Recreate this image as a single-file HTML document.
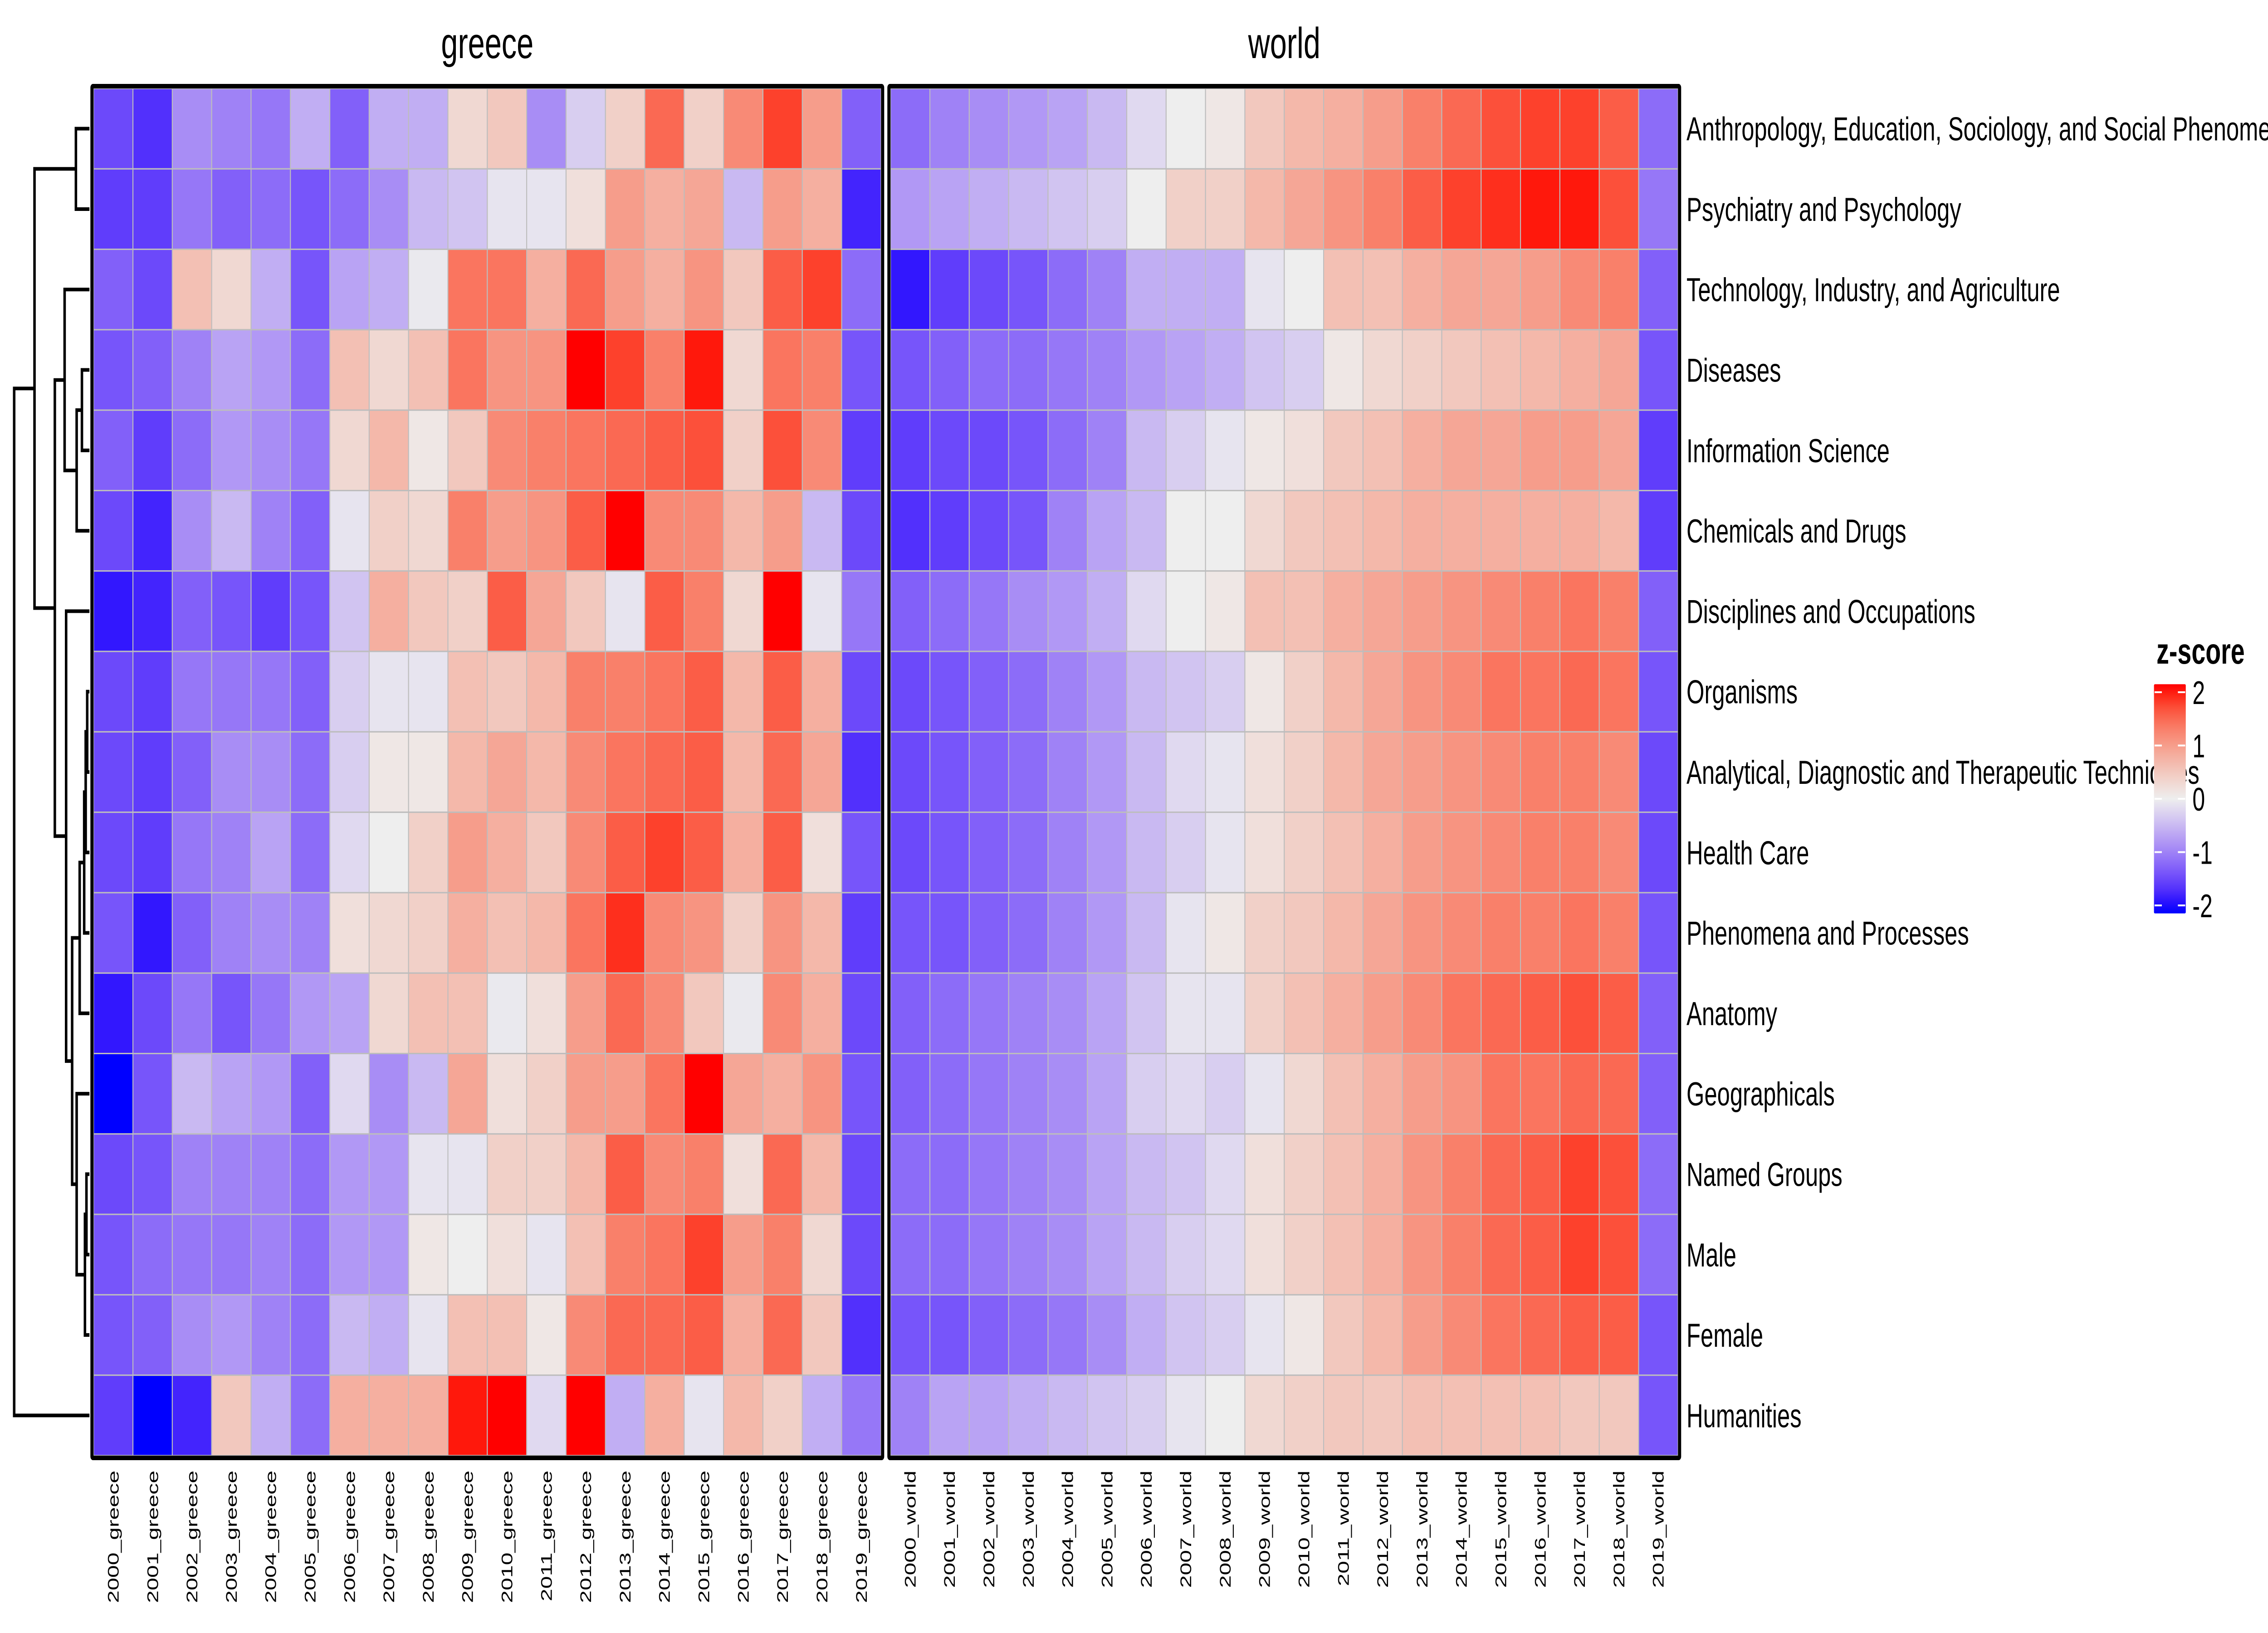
<!DOCTYPE html>
<html><head><meta charset="utf-8"><style>
html,body{margin:0;padding:0;background:#fff;overflow:hidden;width:100vw;height:100vh}
svg{display:block;font-family:"Liberation Sans",Arial,sans-serif;width:100vw;height:100vh}
</style></head><body>
<svg id="chart" viewBox="0 0 7200 3600" preserveAspectRatio="none" xmlns="http://www.w3.org/2000/svg">
<defs>
<linearGradient id="legendGrad" x1="0" y1="1" x2="0" y2="0"></linearGradient>
</defs>
<g id="dendro"></g>
<g id="cells"></g>
<g id="frames"></g>
<g id="labels"></g>
<g id="legend"></g>
</svg>
<script>
const panels = ["greece", "world"];
const years = ["2000","2001","2002","2003","2004","2005","2006","2007","2008","2009","2010","2011","2012","2013","2014","2015","2016","2017","2018","2019"];
const rowNames = ["Anthropology, Education, Sociology, and Social Phenomena","Psychiatry and Psychology","Technology, Industry, and Agriculture","Diseases","Information Science","Chemicals and Drugs","Disciplines and Occupations","Organisms","Analytical, Diagnostic and Therapeutic Techniques","Health Care","Phenomena and Processes","Anatomy","Geographicals","Named Groups","Male","Female","Humanities"];
const greeceValues = [
[-1.5,-1.7,-0.9,-1.0,-1.1,-0.6,-1.3,-0.6,-0.6,0.3,0.5,-0.9,-0.3,0.4,1.5,0.4,1.2,1.8,1.0,-1.3],
[-1.6,-1.6,-1.1,-1.3,-1.2,-1.4,-1.2,-0.9,-0.5,-0.4,-0.1,-0.1,0.2,1.0,0.8,0.9,-0.5,1.0,0.8,-1.8],
[-1.3,-1.5,0.6,0.3,-0.6,-1.4,-0.7,-0.6,-0.05,1.4,1.4,0.8,1.5,1.0,0.8,1.1,0.5,1.6,1.8,-1.2],
[-1.4,-1.3,-1.0,-0.7,-0.8,-1.2,0.6,0.3,0.6,1.4,1.1,1.1,2.3,1.8,1.3,2.0,0.3,1.4,1.3,-1.4],
[-1.3,-1.6,-1.2,-0.8,-0.9,-1.1,0.3,0.7,0.1,0.5,1.2,1.3,1.4,1.5,1.6,1.7,0.4,1.7,1.2,-1.6],
[-1.5,-1.8,-0.9,-0.5,-1.0,-1.3,-0.1,0.4,0.3,1.3,1.0,1.1,1.6,2.3,1.2,1.2,0.7,1.0,-0.5,-1.5],
[-1.9,-1.8,-1.3,-1.4,-1.6,-1.4,-0.4,0.8,0.5,0.4,1.6,0.9,0.5,-0.1,1.6,1.3,0.3,2.4,-0.1,-1.1],
[-1.5,-1.6,-1.1,-1.1,-1.1,-1.3,-0.3,-0.1,-0.1,0.6,0.5,0.7,1.3,1.3,1.4,1.6,0.7,1.6,0.8,-1.5],
[-1.5,-1.6,-1.3,-0.9,-0.9,-1.2,-0.3,0.1,0.1,0.7,0.9,0.7,1.2,1.4,1.5,1.6,0.7,1.5,0.9,-1.7],
[-1.5,-1.6,-1.1,-1.0,-0.7,-1.2,-0.2,0.0,0.4,1.0,0.8,0.5,1.2,1.6,1.8,1.6,0.8,1.6,0.2,-1.4],
[-1.4,-1.9,-1.3,-1.0,-0.9,-1.0,0.2,0.3,0.4,0.8,0.6,0.7,1.4,1.9,1.2,1.1,0.4,1.1,0.7,-1.6],
[-1.9,-1.5,-1.1,-1.4,-1.1,-0.8,-0.7,0.3,0.6,0.6,-0.05,0.2,1.0,1.5,1.2,0.5,-0.05,1.2,0.8,-1.5],
[-2.2,-1.4,-0.5,-0.7,-0.8,-1.3,-0.2,-0.9,-0.5,0.9,0.2,0.4,1.0,1.0,1.4,2.3,0.9,0.8,1.1,-1.4],
[-1.5,-1.4,-1.0,-1.0,-1.0,-1.2,-0.8,-0.8,-0.1,-0.1,0.4,0.4,0.7,1.6,1.2,1.3,0.2,1.5,0.7,-1.5],
[-1.4,-1.2,-1.1,-1.1,-1.0,-1.2,-0.8,-0.8,0.1,0.0,0.2,-0.1,0.6,1.3,1.4,1.8,1.0,1.3,0.3,-1.5],
[-1.4,-1.3,-0.9,-0.8,-1.0,-1.2,-0.5,-0.6,-0.1,0.6,0.6,0.1,1.2,1.5,1.5,1.6,0.8,1.5,0.5,-1.7],
[-1.6,-2.3,-1.8,0.5,-0.6,-1.2,0.8,0.8,0.8,2.0,2.2,-0.2,2.3,-0.6,0.8,-0.1,0.7,0.4,-0.6,-1.1]
];
const worldValues = [
[-1.2,-1.0,-0.9,-0.8,-0.7,-0.5,-0.2,0.0,0.1,0.5,0.7,0.8,1.0,1.3,1.5,1.7,1.8,1.8,1.6,-1.2],
[-0.8,-0.7,-0.6,-0.5,-0.4,-0.3,0.0,0.4,0.4,0.7,0.9,1.1,1.3,1.6,1.8,1.9,2.0,2.0,1.7,-1.1],
[-1.9,-1.6,-1.5,-1.4,-1.2,-1.0,-0.6,-0.6,-0.6,-0.1,0.0,0.6,0.6,0.8,0.9,0.9,1.0,1.2,1.3,-1.3],
[-1.4,-1.3,-1.2,-1.2,-1.1,-1.0,-0.8,-0.7,-0.6,-0.4,-0.3,0.1,0.3,0.4,0.5,0.6,0.7,0.8,0.9,-1.4],
[-1.6,-1.5,-1.5,-1.4,-1.2,-1.0,-0.5,-0.3,-0.1,0.1,0.2,0.5,0.6,0.8,0.9,0.9,1.0,1.0,0.9,-1.6],
[-1.7,-1.6,-1.5,-1.4,-1.0,-0.7,-0.5,0.0,0.0,0.3,0.5,0.6,0.7,0.8,0.8,0.8,0.8,0.8,0.7,-1.6],
[-1.3,-1.2,-1.1,-0.9,-0.8,-0.6,-0.2,0.0,0.1,0.6,0.6,0.8,0.9,1.0,1.1,1.2,1.3,1.4,1.3,-1.3],
[-1.5,-1.4,-1.3,-1.2,-1.0,-0.8,-0.5,-0.4,-0.3,0.1,0.4,0.7,0.9,1.1,1.2,1.4,1.4,1.5,1.4,-1.4],
[-1.5,-1.4,-1.3,-1.2,-1.0,-0.8,-0.5,-0.2,-0.1,0.2,0.4,0.7,0.9,1.0,1.1,1.2,1.3,1.3,1.2,-1.5],
[-1.5,-1.4,-1.3,-1.2,-1.0,-0.8,-0.5,-0.3,-0.1,0.2,0.4,0.6,0.8,1.0,1.1,1.2,1.3,1.3,1.2,-1.5],
[-1.4,-1.4,-1.3,-1.2,-1.0,-0.8,-0.5,-0.1,0.1,0.4,0.5,0.7,0.9,1.1,1.2,1.3,1.3,1.4,1.3,-1.4],
[-1.3,-1.2,-1.1,-1.0,-0.9,-0.7,-0.4,-0.1,-0.1,0.4,0.6,0.8,1.0,1.2,1.4,1.5,1.6,1.7,1.6,-1.3],
[-1.3,-1.2,-1.1,-1.0,-0.9,-0.7,-0.3,-0.2,-0.3,-0.1,0.3,0.6,0.8,1.0,1.1,1.4,1.4,1.5,1.5,-1.3],
[-1.2,-1.2,-1.1,-1.0,-0.9,-0.7,-0.5,-0.4,-0.2,0.2,0.4,0.6,0.8,1.1,1.3,1.5,1.6,1.8,1.7,-1.2],
[-1.2,-1.2,-1.1,-1.0,-0.9,-0.7,-0.5,-0.3,-0.2,0.2,0.4,0.6,0.8,1.1,1.3,1.5,1.6,1.8,1.7,-1.2],
[-1.4,-1.4,-1.3,-1.2,-1.1,-0.9,-0.6,-0.4,-0.3,-0.1,0.1,0.5,0.7,1.0,1.2,1.4,1.5,1.6,1.6,-1.4],
[-1.0,-0.7,-0.7,-0.6,-0.5,-0.4,-0.3,-0.1,0.0,0.3,0.4,0.5,0.5,0.6,0.6,0.6,0.6,0.5,0.5,-1.4]
];
const legendTicks = [2,1,0,-1,-2];
// dendrogram: [left, right, mergeHeight]; leaves are row indices
const dendroTree = [[[0,1,0.18],[[2,[[3,4,0.10],5,0.17],0.33],[6,[[[[[7,8,0.03],9,0.05],10,0.07],11,0.13],[12,[[13,14,0.04],15,0.06],0.17],0.23],0.31],0.46],0.73],16,1.0];

const NS = "http://www.w3.org/2000/svg";
function mk(tag, attrs, parent){const e=document.createElementNS(NS,tag);for(const k in attrs)e.setAttribute(k,attrs[k]);parent.appendChild(e);return e;}
const panelX = {greece:297, world:2827};
const panelW = 2500, plotTop = 195, plotBottom = 3209;
const cellW = panelW/years.length, cellH = (plotBottom-plotTop)/rowNames.length;
function xScale(p, i){return panelX[p] + i*cellW;}
function yScale(r){return plotTop + r*cellH;}
function color(v){
  const t = Math.min(Math.abs(v)/2.05, 1);
  const base = 238;
  let r,g,b;
  if(v<0){ r=base*Math.pow(1-t,0.6); g=base*Math.pow(1-t,0.9); b=base+(255-base)*t; }
  else { r=base+(255-base)*t; g=base*Math.pow(1-t,0.62); b=base*Math.pow(1-t,0.8); }
  return `rgb(${Math.round(r)},${Math.round(g)},${Math.round(b)})`;
}
const cellsG = document.getElementById('cells');
const dataByPanel = {greece: greeceValues, world: worldValues};
panels.forEach(p=>{
  dataByPanel[p].forEach((row, ri)=>{
    row.forEach((v, ci)=>{
      const rect = mk('rect',{x:xScale(p,ci),y:yScale(ri),width:cellW,height:cellH,fill:color(v),stroke:'#bdbdbd','stroke-width':3},cellsG);
      
      
    });
  });
});
const framesG = document.getElementById('frames');
const labelsG = document.getElementById('labels');
panels.forEach(p=>{
  const f = mk('rect',{x:panelX[p]-5,y:plotTop-5,width:panelW+10,height:plotBottom-plotTop+10,fill:'none',stroke:'#000','stroke-width':10,rx:3},framesG);
  
  
  const t = mk('text',{x:panelX[p]+panelW/2,y:128,'text-anchor':'middle','font-size':96,fill:'#000'},labelsG);
  t.textContent = p;
  
  
  years.forEach((y,ci)=>{
    const cx = xScale(p,ci)+cellW/2+17;
    const l = mk('text',{x:0,y:0,'text-anchor':'end','font-size':50,fill:'#000',transform:`translate(${cx},3242) rotate(-90)`},labelsG);
    l.textContent = y+'_'+p;
    
    
  });
});
rowNames.forEach((n,ri)=>{
  const l = mk('text',{x:5354,y:yScale(ri)+cellH/2+26,'font-size':73,fill:'#000'},labelsG);
  l.textContent = n;
  
  
});
// dendrogram
const dG = document.getElementById('dendro');
const dLeft = 45, dRight = 284;
function hx(h){return dRight - h*(dRight-dLeft);}
function drawNode(node){
  if(typeof node === 'number') return {y: yScale(node)+cellH/2, x: dRight};
  const a = drawNode(node[0]), b = drawNode(node[1]), x = hx(node[2]);
  const pth = mk('path',{d:`M${a.x},${a.y}H${x}V${b.y}H${b.x}`,stroke:'#000','stroke-width':8,fill:'none'},dG);
  
  
  return {x:x, y:(a.y+b.y)/2};
}
drawNode(dendroTree);
// legend
const grad = document.getElementById('legendGrad');
for(let i=0;i<=20;i++){const v=-2.15+4.3*i/20; mk('stop',{offset:(i/20*100)+'%','stop-color':color(v)},grad);}
const lg = document.getElementById('legend');
const lt = mk('text',{x:6846,y:1463,'font-size':80,'font-weight':'bold',fill:'#000'},lg);
lt.textContent = 'z-score';


const lyScale = v => 1761 - v*117.5;
const cbar = mk('rect',{x:6838,y:lyScale(2.15),width:101,height:lyScale(-2.15)-lyScale(2.15),fill:'url(#legendGrad)',rx:3},lg);


legendTicks.forEach(v=>{
  const y = lyScale(v);
  const t1 = mk('line',{x1:6840,x2:6863,y1:y,y2:y,stroke:'#fff','stroke-width':4},lg);
  
  
  const t2 = mk('line',{x1:6914,x2:6937,y1:y,y2:y,stroke:'#fff','stroke-width':4},lg);
  
  
  const tl = mk('text',{x:6960,y:y+26,'font-size':72,fill:'#000'},lg);
  tl.textContent = v<0 ? '-'+Math.abs(v) : String(v);
  
  
});
</script>
</body></html>
